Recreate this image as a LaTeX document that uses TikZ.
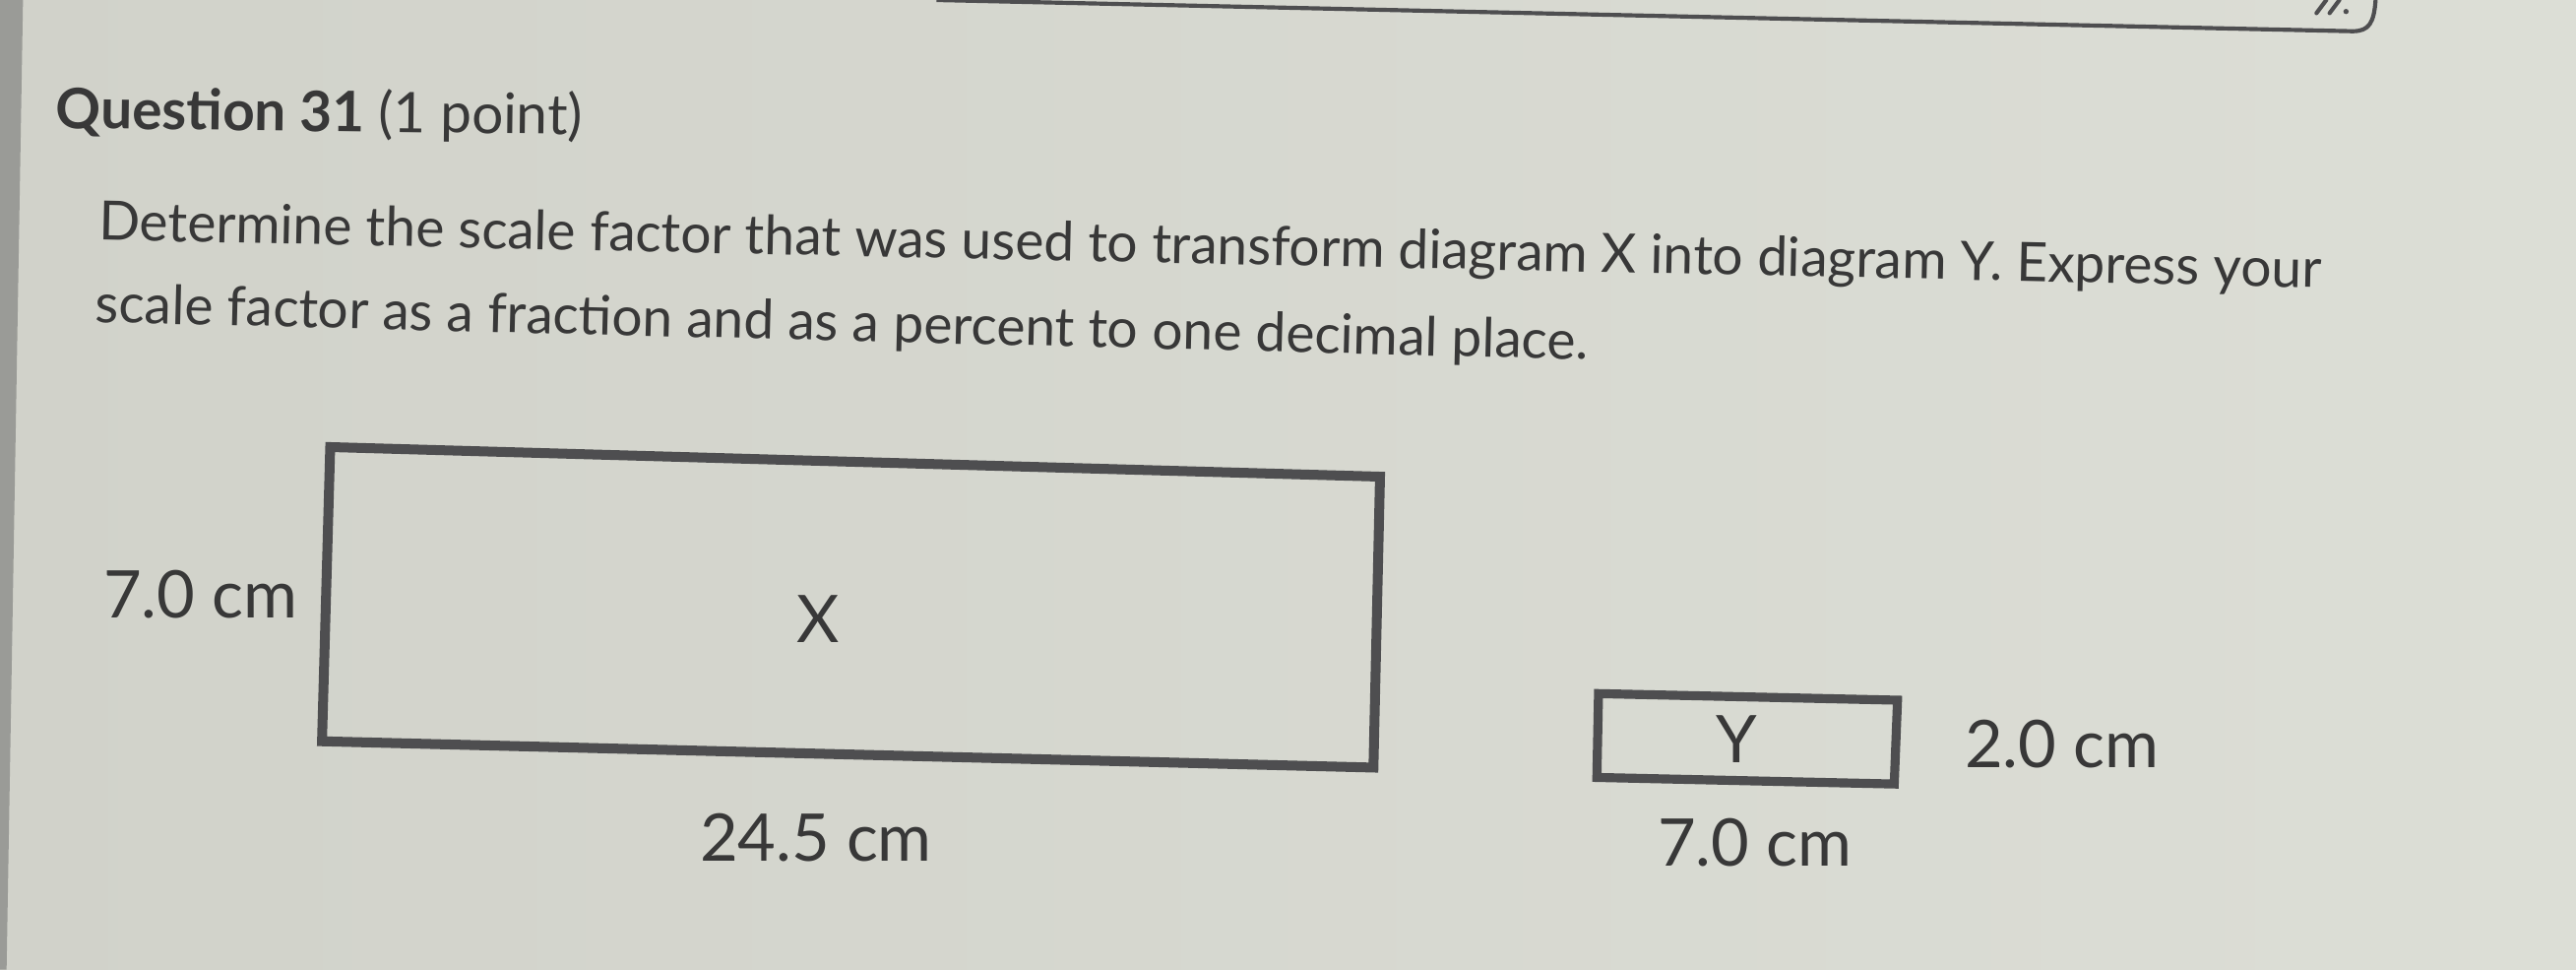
\documentclass[tikz,border=0pt]{standalone}
\usepackage{fontspec}
\setmainfont{Lato}
\definecolor{bgL}{HTML}{D1D2CA}
\definecolor{bgR}{HTML}{DCDED6}
\definecolor{ink}{HTML}{383838}
\definecolor{edge}{HTML}{4E4E50}
\definecolor{barc}{HTML}{9A9B97}
\tikzset{
  txt/.style={inner sep=0pt, outer sep=0pt, text=ink, anchor=base west},
  lbl/.style={inner sep=0pt, outer sep=0pt, text=ink, font=\fontsize{40}{48}\selectfont},
  shapebox/.style={draw=edge, line join=miter},
}
\begin{document}
\begin{tikzpicture}[x=1pt,y=-1pt]
\useasboundingbox (0,0) rectangle (1568,590);
\shade[left color=bgL, right color=bgR] (0,0) rectangle (1568,590);
% left grey bar of the question card
\fill[barc] (0,0) -- (14,0) -- (4,590) -- (0,590) -- cycle;
% bottom edge of the answer box above, with its resize handle
\draw[edge, line width=2.5pt] (570,0) -- (1432,19) .. controls (1442,19) and (1445,14) .. (1446,0);
\draw[edge, line width=2.5pt, line cap=round] (1410,8) -- (1416,0) (1418,8) -- (1424,0);
\fill[edge] (1428,7) circle (1.6pt);
% header and question text
\node[txt, rotate=-0.7] (head) at (34,78) {\fontsize{34}{40}\selectfont\textbf{Question 31} (1 point)};
\node[txt, rotate=-1.23] (line1) at (60,146) {\fontsize{33}{38}\selectfont Determine the scale factor that was used to transform diagram X into diagram Y. Express your};
\node[txt, rotate=-1.44] (line2) at (58,196) {\fontsize{33}{38}\selectfont scale factor as a fraction and as a percent to one decimal place.};
% diagram X
\draw[shapebox, line width=6pt] (201,272) -- (840,290) -- (836,467) -- (196,451) -- cycle;
\node[lbl, anchor=base] (xl) at (498,391) {X};
\node[lbl, anchor=base west] (xh) at (63,376) {7.0 cm};
\node[lbl, anchor=base west] (xw) at (426,524) {24.5 cm};
% diagram Y
\draw[shapebox, line width=5.5pt] (973,422) -- (1155,426) -- (1153,477) -- (972,473) -- cycle;
\node[lbl, anchor=base] (yl) at (1057,464) {Y};
\node[lbl, anchor=base west] (yh) at (1196,467) {2.0 cm};
\node[lbl, anchor=base west] (yw) at (1009,527) {7.0 cm};
\end{tikzpicture}
\end{document}
